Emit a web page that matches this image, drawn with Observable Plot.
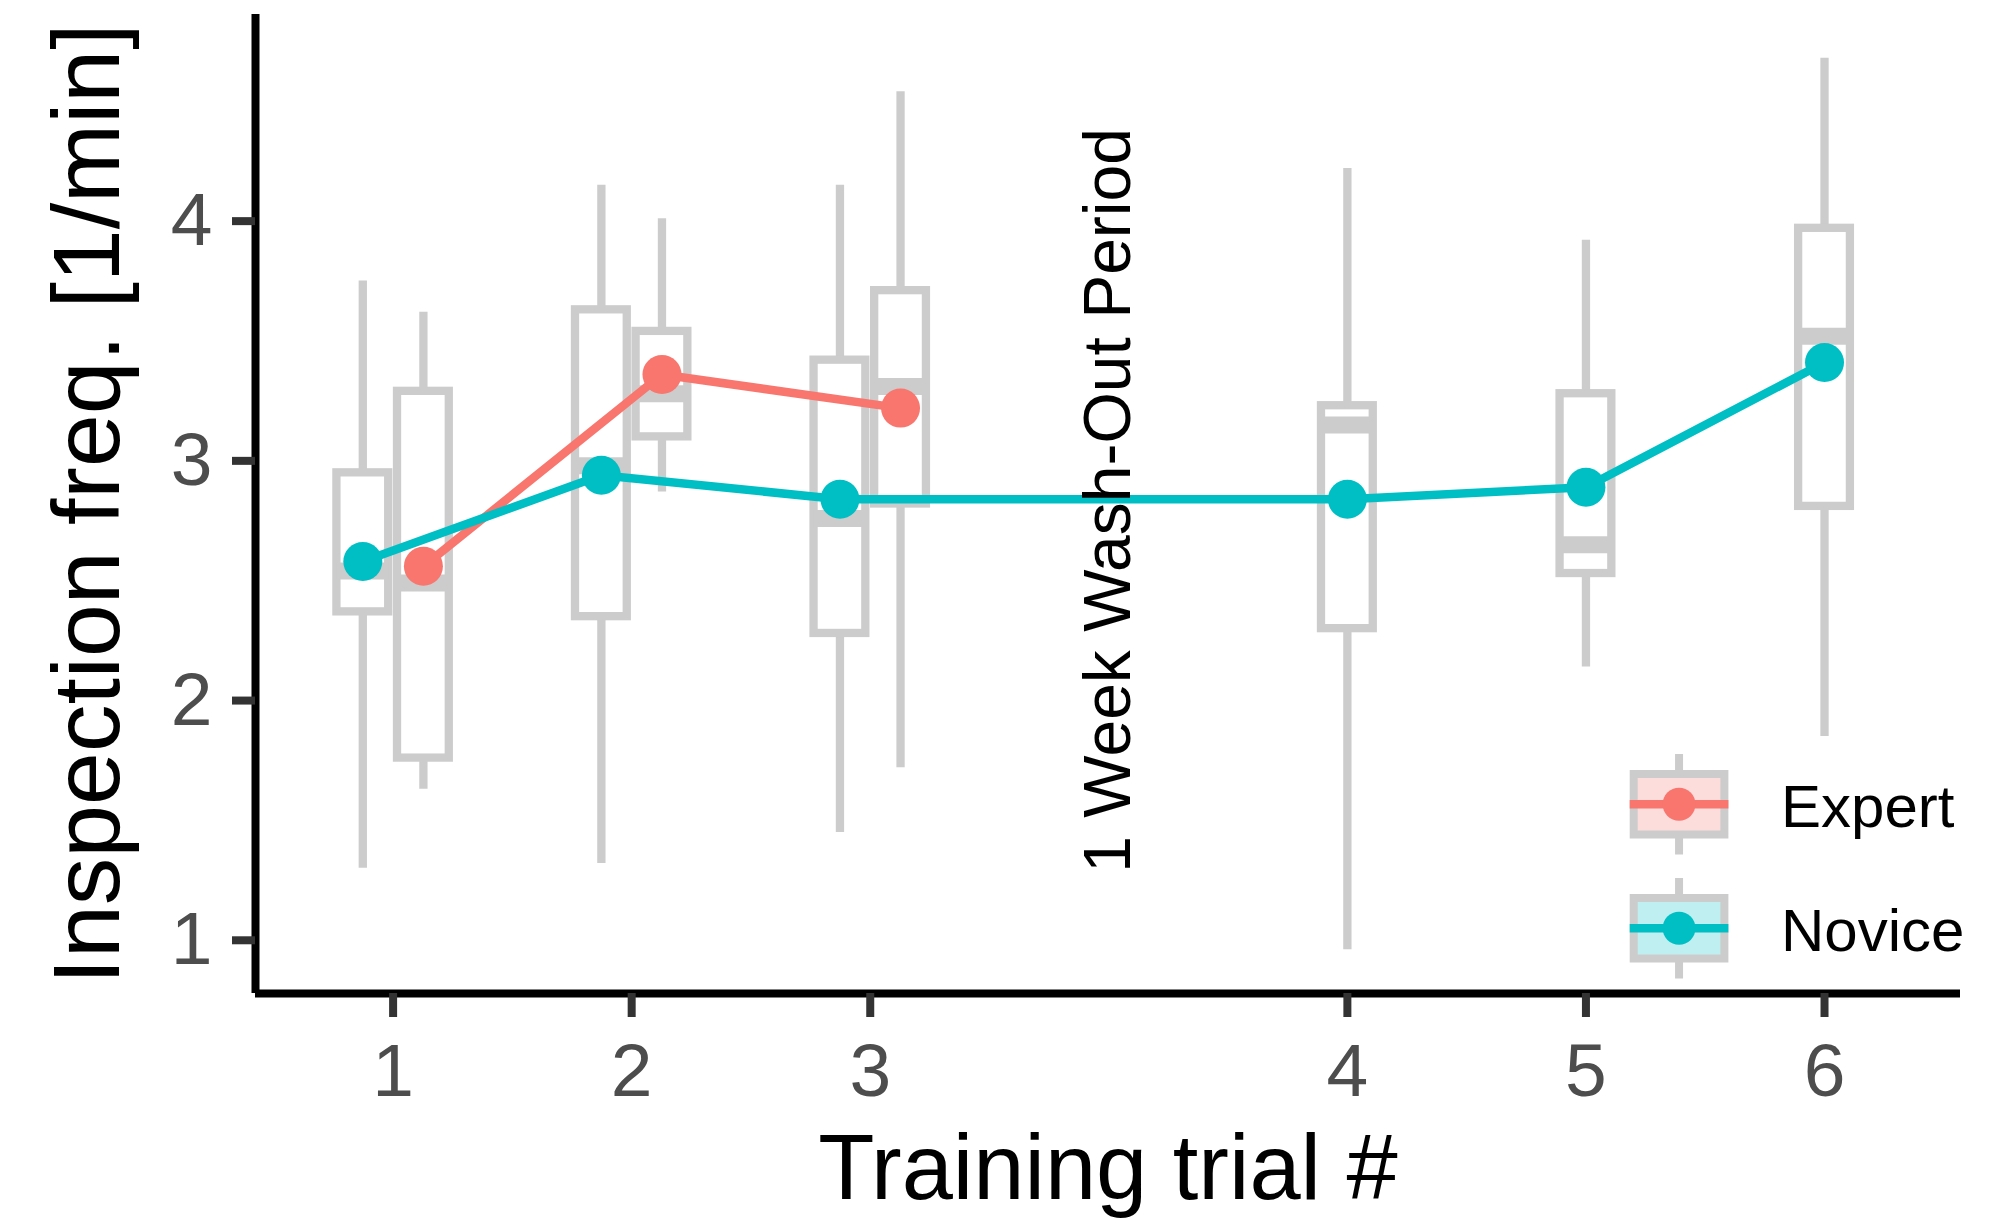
<!DOCTYPE html>
<html>
<head>
<meta charset="utf-8">
<script src="https://cdn.jsdelivr.net/npm/d3@7"></script>
<script src="https://cdn.jsdelivr.net/npm/@observablehq/plot@0.6"></script>
<style>
  html, body { margin: 0; padding: 0; background: #ffffff; }
  #wrap { position: relative; width: 1998px; height: 1223px; font-family: "Liberation Sans", Arial, Helvetica, sans-serif; }
  #wrap svg { display: block; }
  #legend { position: absolute; left: 0; top: 0; pointer-events: none; }
</style>
</head>
<body>
<div id="wrap"></div>
<script>
// ---------- data ----------
const trialLabels = ["1", "2", "3", "4", "5", "6"];
const trialPos    = [1, 2, 3, 5, 6, 7];          // gap between 3 and 4 = wash-out week

// Novice (all six trials)
const noviceLow    = [1.30, 1.32, 1.45, 0.96, 2.14, 1.85];
const noviceQ1     = [2.37, 2.35, 2.28, 2.30, 2.53, 2.81];
const noviceMedian = [2.54, 2.98, 2.76, 3.15, 2.65, 3.52];
const noviceQ3     = [2.95, 3.63, 3.42, 3.23, 3.28, 3.97];
const noviceHigh   = [3.75, 4.15, 4.15, 4.22, 3.92, 4.68];
const noviceMean   = [2.58, 2.94, 2.84, 2.84, 2.89, 3.41];

// Expert (trials 1-3 only)
const expertTrials = ["1", "2", "3"];
const expertLow    = [1.63, 2.87, 1.72];
const expertQ1     = [1.76, 3.10, 2.82];
const expertMedian = [2.49, 3.28, 3.31];
const expertQ3     = [3.29, 3.54, 3.71];
const expertHigh   = [3.62, 4.01, 4.54];
const expertMean   = [2.56, 3.36, 3.22];

const groupNames  = ["Expert", "Novice"];
const groupColors = ["#F8766D", "#00BFC4"];
const groupFills  = ["#FCDDDB", "#BFEFF0"];

const noteText = ["1 Week Wash-Out Period"];
const noteX = [4];
const noteY = [2.835];

const yTicks = [1, 2, 3, 4];

// ---------- build tables ----------
const dodge = 0.127;
const halfW = 0.1085;
const gray = "#CCCCCC";

const noviceRows = trialLabels.map((t, i) => ({
  group: "Novice",
  x: trialPos[i] + (expertTrials.includes(t) ? -dodge : 0),
  low: noviceLow[i], q1: noviceQ1[i], med: noviceMedian[i], q3: noviceQ3[i], high: noviceHigh[i], mean: noviceMean[i]
}));
const expertRows = expertTrials.map((t, i) => ({
  group: "Expert",
  x: trialPos[trialLabels.indexOf(t)] + dodge,
  low: expertLow[i], q1: expertQ1[i], med: expertMedian[i], q3: expertQ3[i], high: expertHigh[i], mean: expertMean[i]
}));
const boxes = [...noviceRows, ...expertRows];
const notes = noteText.map((t, i) => ({text: t, x: noteX[i], y: noteY[i]}));

const xDomain = [0.4232, 7.570];
const yDomain = [0.778, 4.862];

const chart = Plot.plot({
  width: 1998,
  height: 1223,
  marginLeft: 255,
  marginRight: 38,
  marginTop: 14,
  marginBottom: 230,
  x: {domain: xDomain},
  y: {domain: yDomain},
  style: {fontFamily: "'Liberation Sans', Arial, Helvetica, sans-serif", background: "#ffffff", overflow: "visible"},
  marks: [
    // whiskers
    Plot.ruleX(boxes, {x: "x", y1: "low", y2: "high", stroke: gray, strokeWidth: 8.3}),
    // boxes
    Plot.rect(boxes, {x1: d => d.x - halfW, x2: d => d.x + halfW, y1: "q1", y2: "q3", fill: "#ffffff", stroke: gray, strokeWidth: 8.3}),
    // medians
    Plot.ruleY(boxes, {y: "med", x1: d => d.x - halfW, x2: d => d.x + halfW, stroke: gray, strokeWidth: 17}),
    // mean lines
    Plot.line(expertRows, {x: "x", y: "mean", stroke: groupColors[0], strokeWidth: 8.5}),
    Plot.line(noviceRows, {x: "x", y: "mean", stroke: groupColors[1], strokeWidth: 8.5}),
    // mean points
    Plot.dot(expertRows, {x: "x", y: "mean", r: 19.5, fill: groupColors[0]}),
    Plot.dot(noviceRows, {x: "x", y: "mean", r: 19.5, fill: groupColors[1]}),
    // annotation
    Plot.text(notes, {x: "x", y: "y", text: "text", rotate: -90, fontSize: 66, fill: "#000000"}),
    // axis lines
    Plot.ruleX([xDomain[0]], {stroke: "#000000", strokeWidth: 8}),
    Plot.ruleY([yDomain[0]], {stroke: "#000000", strokeWidth: 8}),
    // ticks and tick labels
    Plot.axisY(yTicks, {tickSize: 23, tickPadding: 20, strokeWidth: 8, stroke: "#333333", fill: "#4D4D4D", fontSize: 75, label: null,
      tickFormat: d => String(d)}),
    Plot.axisX(trialPos, {tickSize: 24, tickPadding: 25, strokeWidth: 8, stroke: "#333333", fill: "#4D4D4D", fontSize: 75, label: null,
      tickFormat: d => trialLabels[trialPos.indexOf(d)]}),
    // axis titles
    Plot.text(["Inspection freq. [1/min]"], {text: d => d, frameAnchor: "left", textAnchor: "middle", dx: -137, rotate: -90, lineAnchor: "bottom", fontSize: 95, fill: "#000000"}),
    Plot.text(["Training trial #"], {text: d => d, frameAnchor: "bottom", textAnchor: "middle", dy: 205, lineAnchor: "bottom", fontSize: 92, fill: "#000000"})
  ]
});

const wrap = document.getElementById("wrap");
wrap.appendChild(chart);

// ---------- legend (boxplot keys with line + point) ----------
const leg = d3.create("svg")
  .attr("id", "legend")
  .attr("width", 1998)
  .attr("height", 1223);
const keyX0 = 1633.7, keyW = 90.7, keyH = 60.5;
const keyTops = [774, 898];
groupNames.forEach((name, i) => {
  const top = keyTops[i];
  const cx = keyX0 + keyW / 2;
  const cy = top + keyH / 2;
  const g = leg.append("g");
  g.append("line").attr("x1", cx).attr("x2", cx).attr("y1", top - 20).attr("y2", top + keyH + 20)
    .attr("stroke", gray).attr("stroke-width", 8);
  g.append("rect").attr("x", keyX0).attr("y", top).attr("width", keyW).attr("height", keyH)
    .attr("fill", groupFills[i]).attr("stroke", gray).attr("stroke-width", 8);
  g.append("line").attr("x1", keyX0 - 4).attr("x2", keyX0 + keyW + 4).attr("y1", cy).attr("y2", cy)
    .attr("stroke", groupColors[i]).attr("stroke-width", 8.3);
  g.append("circle").attr("cx", cx).attr("cy", cy).attr("r", 16.5).attr("fill", groupColors[i]);
  g.append("text").attr("x", 1781).attr("y", cy + 23).attr("font-size", 60)
    .attr("font-family", "'Liberation Sans', Arial, Helvetica, sans-serif")
    .attr("fill", "#000000").text(name);
});
wrap.appendChild(leg.node());
</script>
</body>
</html>
